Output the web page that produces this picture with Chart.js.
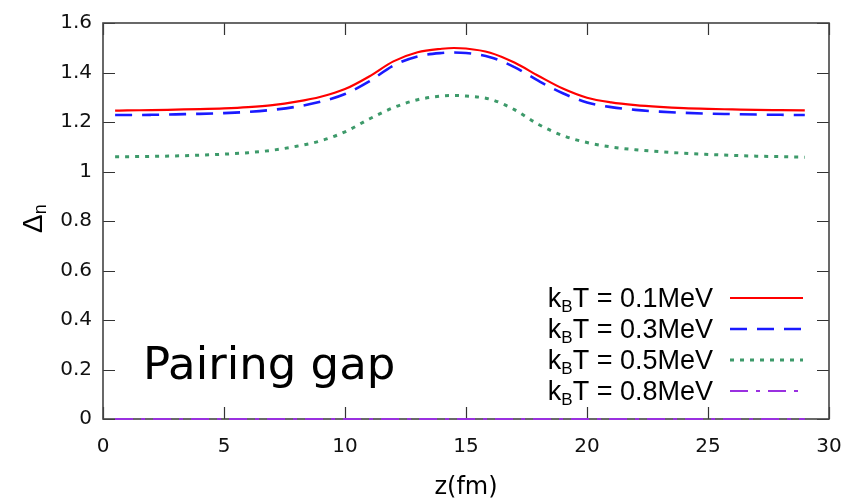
<!DOCTYPE html>
<html><head><meta charset="utf-8">
<script src="https://cdn.jsdelivr.net/npm/chart.js@4/dist/chart.umd.min.js"></script>
<style>html,body{margin:0;padding:0;background:#fff}#wrap{width:859px;height:502px;position:relative}</style>
</head><body><div id="wrap"><canvas id="c" width="859" height="502"></canvas></div>
<script>
// ---- data ----
const zValues = [0.5,1,2,3,4,5,6,7,8,9,10,11,12,13,14,14.5,15,16,17,18,19,20,21,22,23,24,25,26,27,28,29];
const gapT01 = [1.246,1.247,1.248,1.250,1.252,1.255,1.260,1.268,1.282,1.302,1.333,1.384,1.445,1.482,1.496,1.499,1.497,1.480,1.440,1.386,1.335,1.298,1.279,1.268,1.261,1.256,1.253,1.251,1.249,1.248,1.247];
const gapT03 = [1.228,1.228,1.229,1.231,1.233,1.236,1.241,1.249,1.262,1.282,1.313,1.364,1.428,1.465,1.479,1.481,1.479,1.462,1.422,1.366,1.316,1.279,1.260,1.249,1.242,1.237,1.234,1.232,1.230,1.229,1.228];
const gapT05 = [1.060,1.060,1.061,1.063,1.066,1.070,1.076,1.086,1.102,1.124,1.160,1.212,1.258,1.290,1.305,1.307,1.305,1.292,1.250,1.190,1.145,1.117,1.099,1.088,1.080,1.074,1.069,1.065,1.062,1.060,1.058];
const gapT08 = [0,0,0,0,0,0,0,0,0,0,0,0,0,0,0,0,0,0,0,0,0,0,0,0,0,0,0,0,0,0,0];
const temperatures = ['0.1','0.3','0.5','0.8'];
const xTickLabels = ['0','5','10','15','20','25','30'];
const yTickLabels = ['0','0.2','0.4','0.6','0.8','1','1.2','1.4','1.6'];

const toPts = arr => arr.map((v,i)=>({x:zValues[i], y:v}));
const series = [gapT01, gapT03, gapT05, gapT08];
const styles = [
  {color:'#ff0000', width:2.2, dash:[]},
  {color:'#1a1aff', width:2.6, dash:[17,10]},
  {color:'#3d9a6a', width:3, dash:[4,6]},
  {color:'#9a30e0', width:2, dash:[18,8,4,8]}
];
const datasets = series.map((s,i)=>({
  label:'kBT = '+temperatures[i]+'MeV',
  data:toPts(s),
  borderColor:styles[i].color,
  borderWidth:styles[i].width,
  borderDash:styles[i].dash,
  pointRadius:0,
  fill:false,
  cubicInterpolationMode:'monotone',
  clip:false
}));

const FONT_T = 'DejaVu Sans';
const FONT_L = '"Liberation Sans", Arial, sans-serif';

const framePlugin = {
  id:'frame',
  beforeDatasetsDraw(chart){
    const {ctx, chartArea:a, scales:{x,y}} = chart;
    ctx.save();
    ctx.strokeStyle = '#333';
    ctx.lineWidth = 1.2;
    const tl = 12;
    ctx.beginPath();
    xTickLabels.forEach(t=>{
      const px = Math.round(x.getPixelForValue(Number(t)))+0.5;
      ctx.moveTo(px, a.bottom); ctx.lineTo(px, a.bottom-tl);
      ctx.moveTo(px, a.top); ctx.lineTo(px, a.top+tl);
    });
    yTickLabels.forEach(t=>{
      const py = Math.round(y.getPixelForValue(Number(t)))+0.5;
      ctx.moveTo(a.left, py); ctx.lineTo(a.left+tl, py);
      ctx.moveTo(a.right, py); ctx.lineTo(a.right-tl, py);
    });
    ctx.stroke();
    ctx.strokeStyle = '#444';
    ctx.lineWidth = 1.6;
    ctx.strokeRect(a.left, a.top, a.right-a.left, a.bottom-a.top);
    ctx.restore();
  },
  afterDraw(chart){
    const {ctx} = chart;
    ctx.save();
    // y-axis title: Delta_n rotated
    ctx.translate(42, 233);
    ctx.rotate(-Math.PI/2);
    ctx.fillStyle = '#000';
    ctx.textBaseline = 'alphabetic';
    ctx.textAlign = 'left';
    ctx.font = '28px ' + FONT_L;
    ctx.fillText('\u0394', 0, 0);
    const dw = ctx.measureText('\u0394').width;
    ctx.font = '18px ' + FONT_L;
    ctx.fillText('n', dw, 4);
    ctx.restore();

    // legend
    ctx.save();
    ctx.fillStyle = '#000';
    ctx.textBaseline = 'alphabetic';
    const rowY = [298, 329, 360, 391];
    chart.data.datasets.forEach((ds,i)=>{
      const main = '27px ' + FONT_L, sub = '17px ' + FONT_L;
      const rest = 'T = ' + temperatures[i] + 'MeV';
      ctx.font = main; const wk = ctx.measureText('k').width; const wr = ctx.measureText(rest).width;
      ctx.font = sub; const wb = ctx.measureText('B').width;
      const total = wk + wb + wr;
      let xx = 713 - total;
      const base = rowY[i] + 9;
      ctx.font = main; ctx.fillText('k', xx, base); xx += wk;
      ctx.font = sub; ctx.fillText('B', xx, base + 4.5); xx += wb;
      ctx.font = main; ctx.fillText(rest, xx, base);
      ctx.beginPath();
      ctx.strokeStyle = ds.borderColor;
      ctx.lineWidth = ds.borderWidth;
      ctx.setLineDash(ds.borderDash);
      ctx.moveTo(730, rowY[i]); ctx.lineTo(803, rowY[i]);
      ctx.stroke();
      ctx.setLineDash([]);
    });
    // annotation
    ctx.font = '45px ' + FONT_T;
    ctx.fillStyle = '#000';
    ctx.fillText('Pairing gap', 143, 379);
    ctx.restore();
  }
};

new Chart(document.getElementById('c'), {
  type:'line',
  data:{datasets},
  options:{
    responsive:false,
    animation:false,
    layout:{padding:{top:17, right:30, left:0, bottom:0}},
    plugins:{legend:{display:false}, tooltip:{enabled:false}},
    scales:{
      x:{
        type:'linear', min:0, max:30,
        grid:{display:false, drawTicks:false},
        border:{display:false},
        ticks:{stepSize:5, padding:16, maxRotation:0, autoSkip:false,
          font:{family:FONT_T, size:20}, color:'#111',
          callback:(v,i)=>xTickLabels[i]},
        title:{display:true, text:'z(fm)', font:{family:FONT_T, size:24}, color:'#000', padding:{top:0,bottom:0}},
        afterFit(s){ s.height = 83; }
      },
      y:{
        type:'linear', min:0, max:1.6,
        grid:{display:false, drawTicks:false},
        border:{display:false},
        ticks:{stepSize:0.2, padding:11, autoSkip:false,
          font:{family:FONT_T, size:20}, color:'#111',
          callback:(v,i)=>yTickLabels[i]},
        afterFit(s){ s.width = 103; }
      }
    }
  },
  plugins:[framePlugin]
});
</script></body></html>
